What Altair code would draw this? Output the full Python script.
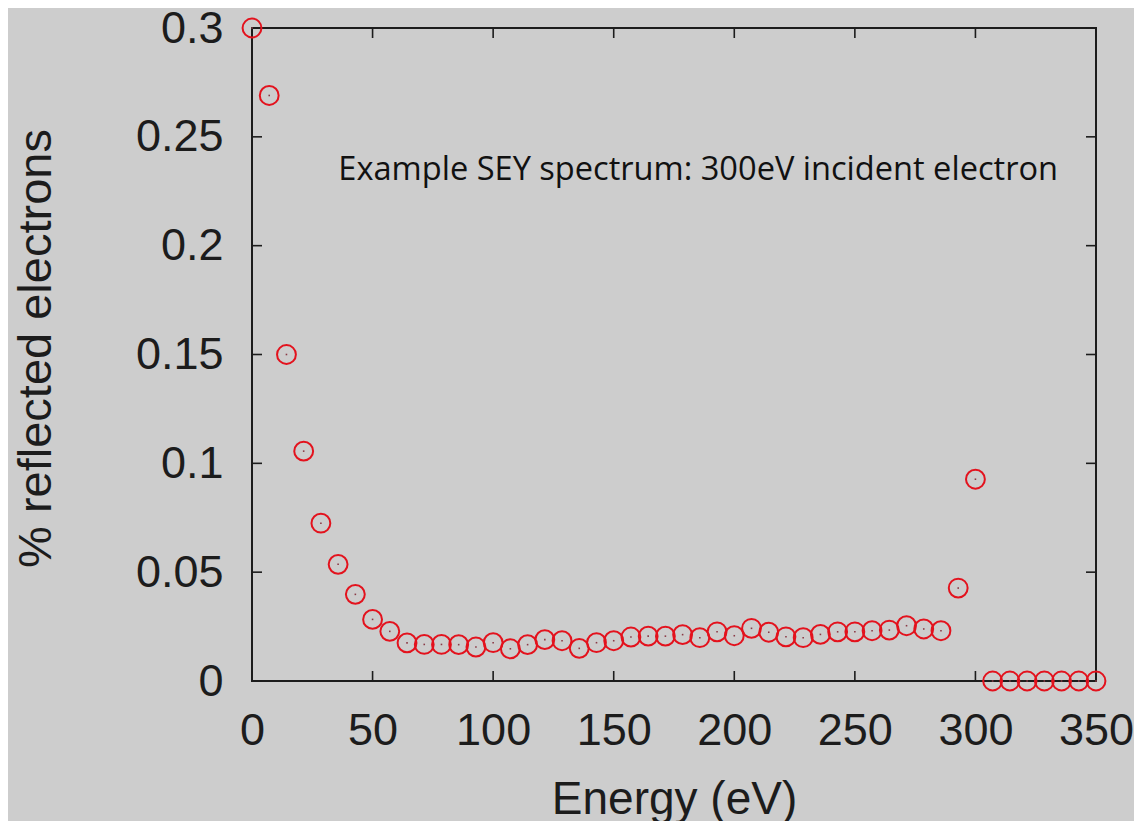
import altair as alt
import pandas as pd

# ---- data ----
energy = [0.0, 7.14, 14.29, 21.43, 28.57, 35.71, 42.86, 50.0, 57.14, 64.29,
          71.43, 78.57, 85.71, 92.86, 100.0, 107.14, 114.29, 121.43, 128.57, 135.71,
          142.86, 150.0, 157.14, 164.29, 171.43, 178.57, 185.71, 192.86, 200.0, 207.14,
          214.29, 221.43, 228.57, 235.71, 242.86, 250.0, 257.14, 264.29, 271.43, 278.57,
          285.71, 292.86, 300.0, 307.14, 314.29, 321.43, 328.57, 335.71, 342.86, 350.0]
reflected = [0.300, 0.269, 0.150, 0.1056, 0.0725, 0.0536, 0.0398, 0.0283, 0.0228, 0.0175,
             0.0168, 0.0168, 0.0167, 0.0156, 0.0176, 0.0148, 0.0167, 0.0190, 0.0185, 0.0150,
             0.0176, 0.0185, 0.0202, 0.0206, 0.0206, 0.0213, 0.0199, 0.0226, 0.0208, 0.0242,
             0.0224, 0.0203, 0.0199, 0.0214, 0.0226, 0.0226, 0.0231, 0.0234, 0.0254, 0.0239,
             0.0231, 0.0427, 0.0927, 0.0, 0.0, 0.0, 0.0, 0.0, 0.0, 0.0]

x_ticks = [0, 50, 100, 150, 200, 250, 300, 350]
y_ticks = [0, 0.05, 0.1, 0.15, 0.2, 0.25, 0.3]

annotation_text = ["Example SEY spectrum: 300eV incident electron"]
annotation_x = [35.8]
annotation_y = [0.2303]

x_title = "Energy (eV)"
y_title = "% reflected electrons"

# ---- layout / style ----
W, H = 844, 653
BG = "#cdcdcd"
INK = "#1c1c1c"
RED = "#e3121d"
TICK = 10

df = pd.DataFrame({"energy": energy, "reflected": reflected})
xt = pd.DataFrame({"energy": x_ticks})
yt = pd.DataFrame({"reflected": y_ticks})
ann = pd.DataFrame({"label": annotation_text, "energy": annotation_x, "reflected": annotation_y})

xscale = alt.Scale(domain=[0, 350], nice=False, zero=False)
yscale = alt.Scale(domain=[0, 0.3], nice=False, zero=False)

xaxis = alt.Axis(values=x_ticks, format="d", ticks=False, domain=False,
                 grid=False, labelFontSize=45, labelFont="Liberation Sans",
                 labelColor=INK, labelPadding=27, labelBaseline="top",
                 title=x_title, titleFontSize=46, titleFont="Liberation Sans",
                 titleFontWeight="normal", titleColor=INK,
                 titleBaseline="alphabetic", titleX=422, titleY=132,
                 labelFlush=False, labelOverlap=False)
yaxis = alt.Axis(values=y_ticks, format="~g", ticks=False, domain=False,
                 grid=False, labelFontSize=45, labelFont="Liberation Sans",
                 labelColor=INK, labelPadding=29,
                 title=y_title, titleFontSize=47, titleFont="Liberation Sans",
                 titleFontWeight="normal", titleColor=INK, titleAngle=270,
                 titleBaseline="alphabetic", titleX=-202, titleY=320, titleAlign="center",
                 labelFlush=False, labelOverlap=False)

X = alt.X("energy:Q", scale=xscale, axis=xaxis)
Y = alt.Y("reflected:Q", scale=yscale, axis=yaxis)

points = alt.Chart(df).mark_point(
    shape="circle", filled=False, color=RED, strokeWidth=2, size=355, opacity=1
).encode(x=X, y=Y)

dots = alt.Chart(df).mark_square(size=2.5, color="#8a3a46", opacity=1).encode(x=X, y=Y)

tick_style = dict(color=INK, strokeWidth=1.6)
bottom_ticks = alt.Chart(xt).mark_rule(**tick_style).encode(
    x=X, y=alt.value(H), y2=alt.value(H - TICK))
top_ticks = alt.Chart(xt).mark_rule(**tick_style).encode(
    x=X, y=alt.value(0), y2=alt.value(TICK))
left_ticks = alt.Chart(yt).mark_rule(**tick_style).encode(
    y=Y, x=alt.value(0), x2=alt.value(TICK))
right_ticks = alt.Chart(yt).mark_rule(**tick_style).encode(
    y=Y, x=alt.value(W), x2=alt.value(W - TICK))

annotation = alt.Chart(ann).mark_text(
    align="left", baseline="alphabetic", font="Open Sans", fontSize=32.6, color="#111111"
).encode(x=X, y=Y, text="label:N")

chart = alt.layer(
    bottom_ticks, top_ticks, left_ticks, right_ticks, annotation, points, dots
).properties(
    width=W, height=H,
    autosize=alt.AutoSizeParams(type="none"),
    padding={"left": 244, "top": 20, "right": 38, "bottom": 150},
    background=BG,
).configure_view(
    stroke=INK, strokeWidth=2, fill=BG
)

chart.save("out.html", embed_options={"renderer": "svg", "actions": False})
